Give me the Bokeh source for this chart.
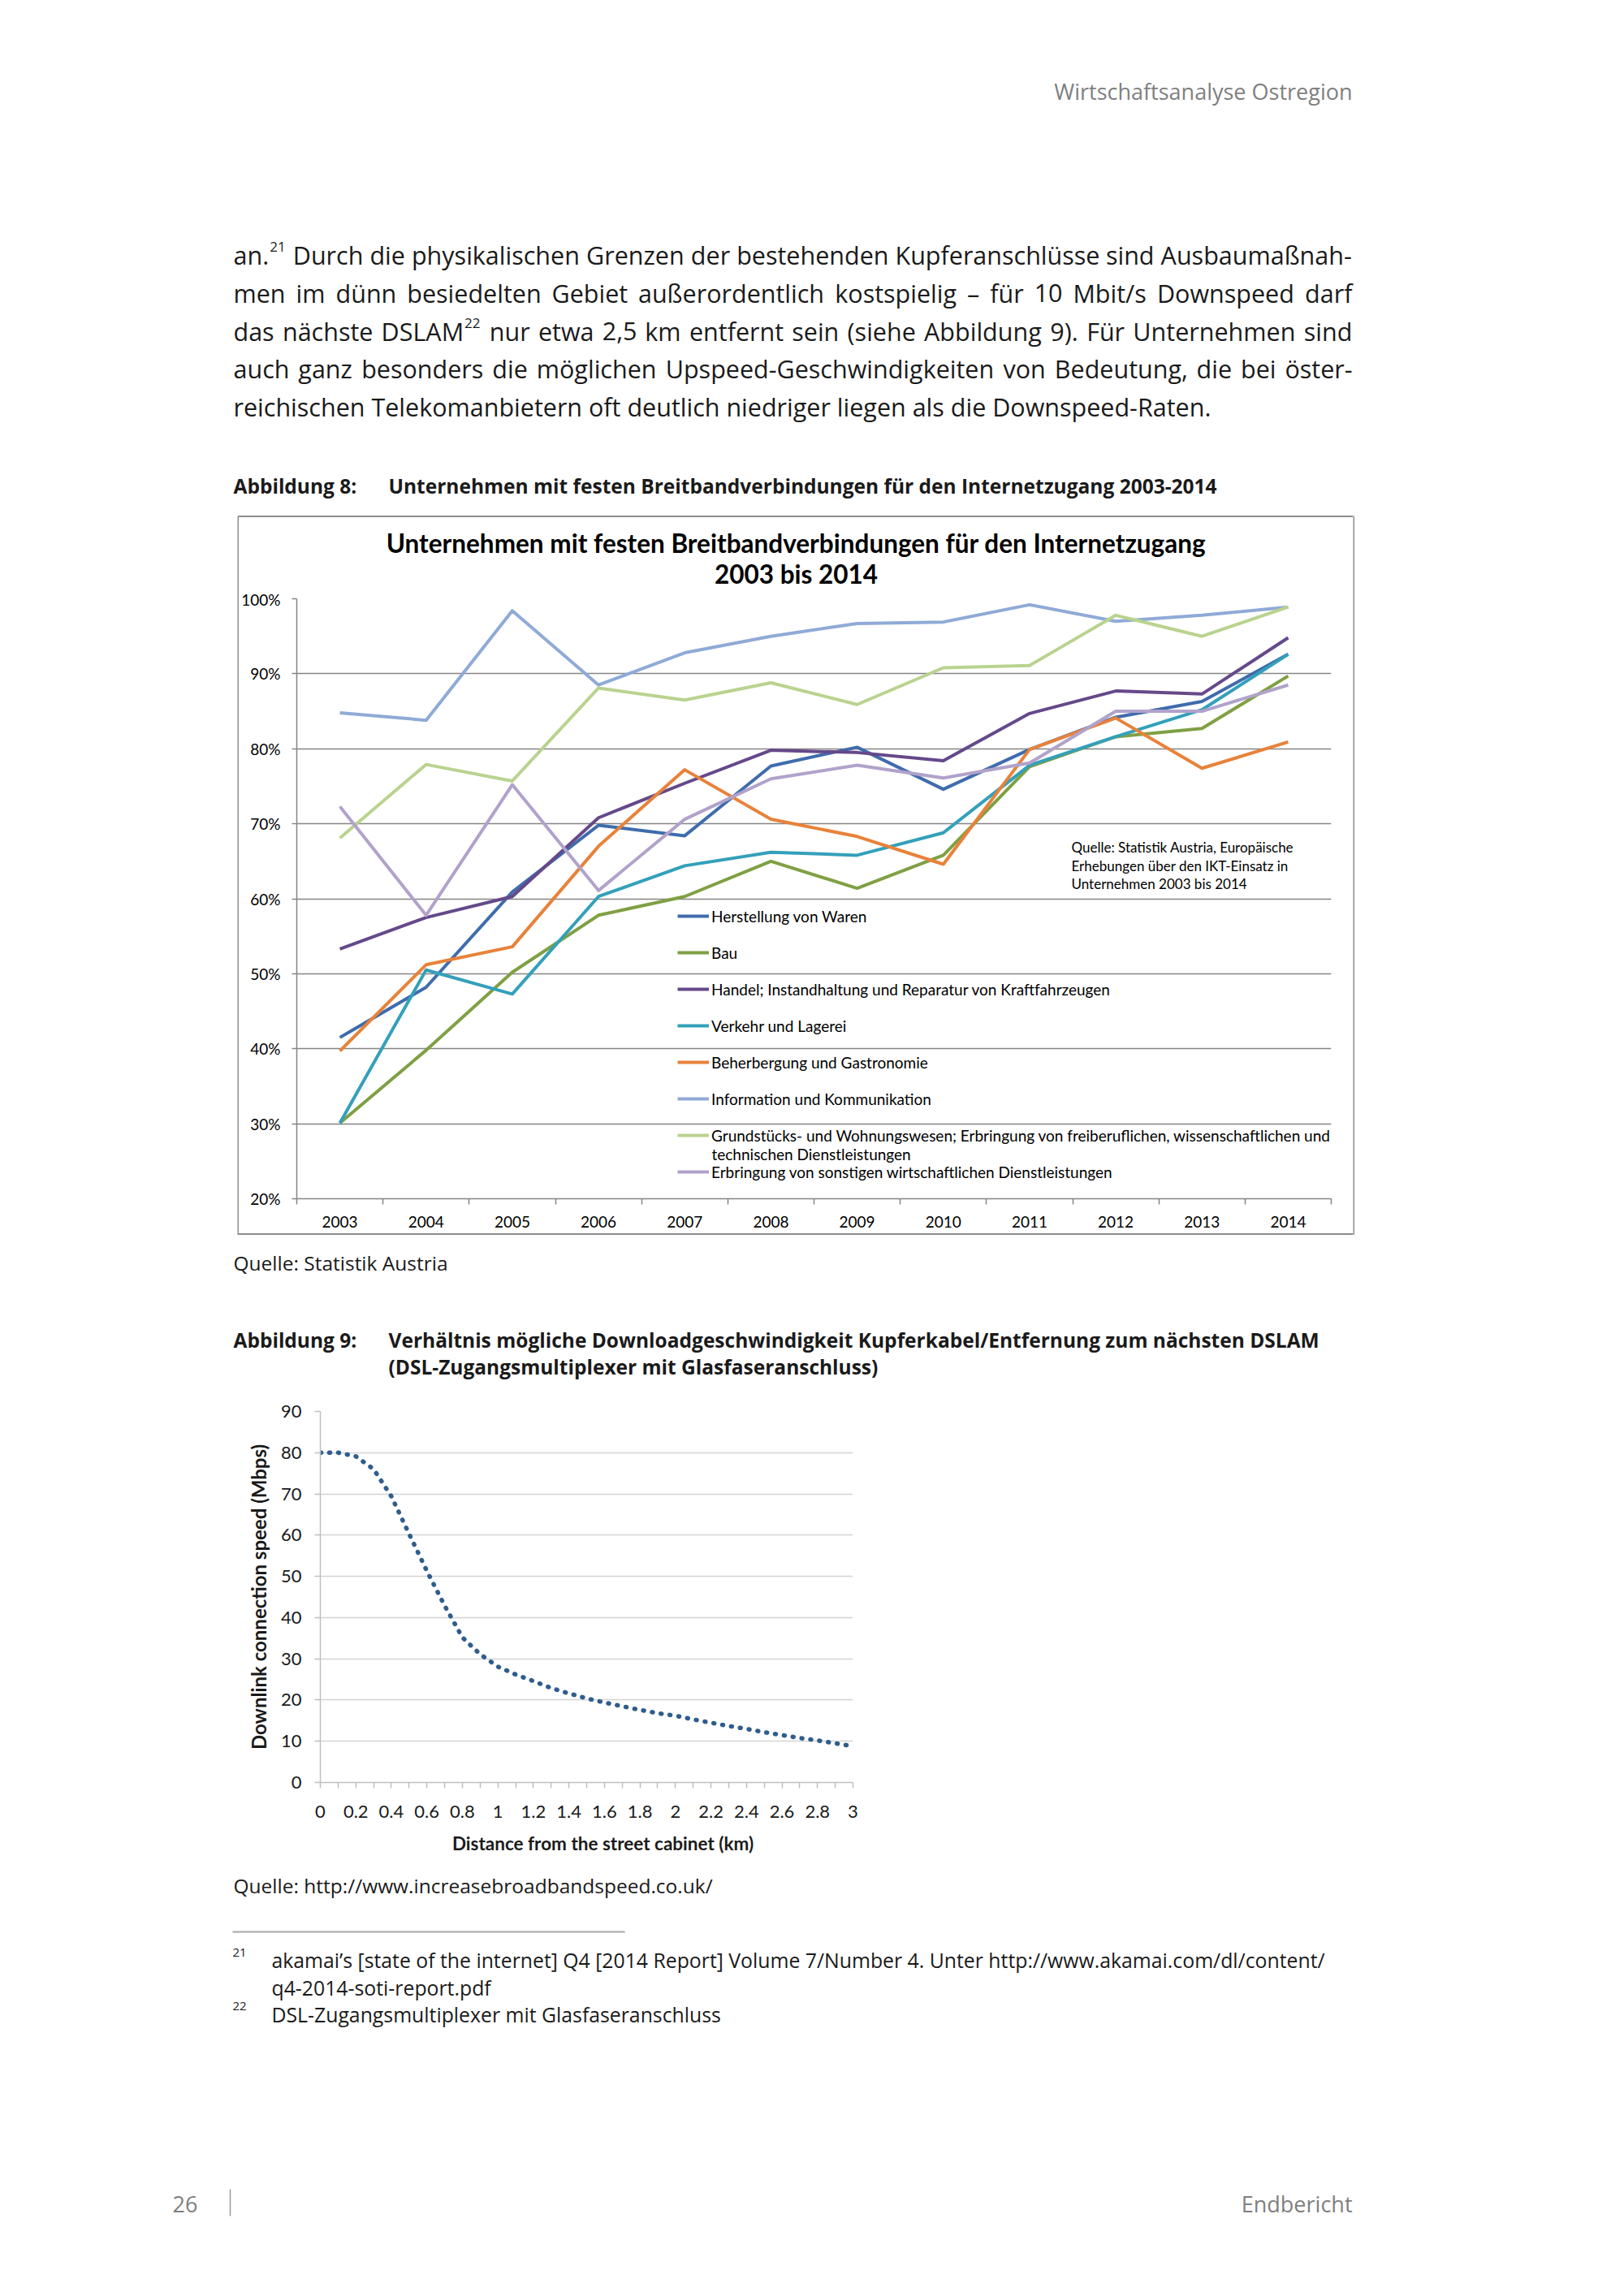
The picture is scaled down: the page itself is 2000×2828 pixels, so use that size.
from bokeh.plotting import figure
from bokeh.models import (Range1d, FixedTicker, PrintfTickFormatter, CustomJSTickFormatter,
                          Legend, LegendItem, Label, Spacer, Div)
from bokeh.layouts import column, row
from bokeh.embed import file_html
from bokeh.resources import INLINE
from bokeh.core.properties import value

# ---------------- data: chart 1 ----------------
years = [2003, 2004, 2005, 2006, 2007, 2008, 2009, 2010, 2011, 2012, 2013, 2014]
herstellung = [41.5, 48.2, 60.9, 69.8, 68.4, 77.7, 80.2, 74.6, 79.9, 84.2, 86.3, 92.6]
bau = [30.1, 39.8, 50.2, 57.8, 60.3, 65.0, 61.4, 65.8, 77.6, 81.6, 82.7, 89.7]
handel = [53.3, 57.5, 60.3, 70.8, 75.4, 79.8, 79.5, 78.4, 84.7, 87.7, 87.3, 94.8]
verkehr = [30.1, 50.5, 47.3, 60.3, 64.4, 66.2, 65.8, 68.8, 77.8, 81.6, 85.2, 92.6]
beherbergung = [39.7, 51.2, 53.6, 67.0, 77.2, 70.6, 68.3, 64.6, 79.9, 84.1, 77.4, 80.9]
information = [84.8, 83.8, 98.4, 88.5, 92.8, 95.0, 96.7, 96.9, 99.2, 97.0, 97.8, 98.9]
grundstuecke = [68.1, 77.9, 75.7, 88.1, 86.5, 88.8, 85.9, 90.8, 91.1, 97.8, 95.0, 98.9]
erbringung = [72.3, 57.8, 75.2, 61.1, 70.6, 76.0, 77.8, 76.1, 78.1, 85.0, 85.0, 88.5]

series_names = [
    "Herstellung von Waren",
    "Bau",
    "Handel; Instandhaltung und Reparatur von Kraftfahrzeugen",
    "Verkehr und Lagerei",
    "Beherbergung und Gastronomie",
    "Information und Kommunikation",
    "Grundstücks- und Wohnungswesen; Erbringung von freiberuflichen, wissenschaftlichen und",
    "Erbringung von sonstigen wirtschaftlichen Dienstleistungen",
]
series_values = [herstellung, bau, handel, verkehr, beherbergung, information, grundstuecke, erbringung]
series_colors = ["#3F6CAD", "#7FA043", "#65498A", "#34A0BA", "#E8823A", "#8FAAD6", "#B9D38F", "#B1A2CB"]
pct_ticks = [20, 30, 40, 50, 60, 70, 80, 90, 100]
year_bounds = [2002.5, 2003.5, 2004.5, 2005.5, 2006.5, 2007.5, 2008.5, 2009.5, 2010.5,
               2011.5, 2012.5, 2013.5, 2014.5]

# ---------------- data: chart 2 ----------------
dist_km = [0.0, 0.1, 0.2, 0.3, 0.4, 0.5, 0.6, 0.7, 0.8, 0.9, 1.0, 1.1, 1.2, 1.3, 1.4, 1.5,
           1.6, 1.7, 1.8, 1.9, 2.0, 2.1, 2.2, 2.3, 2.4, 2.5, 2.6, 2.7, 2.8, 2.9, 2.97]
speed_mbps = [80.0, 80.0, 79.1, 76.0, 69.4, 60.3, 51.3, 42.9, 35.2, 31.1, 28.1, 26.2, 24.6,
              22.9, 21.6, 20.4, 19.4, 18.5, 17.6, 16.8, 16.2, 15.3, 14.5, 13.7, 13.0, 12.2,
              11.5, 10.8, 10.2, 9.5, 9.0]
speed_ticks = [0, 10, 20, 30, 40, 50, 60, 70, 80, 90]
dist_ticks = [0, 0.2, 0.4, 0.6, 0.8, 1, 1.2, 1.4, 1.6, 1.8, 2, 2.2, 2.4, 2.6, 2.8, 3]
dist_minor = [0.1, 0.3, 0.5, 0.7, 0.9, 1.1, 1.3, 1.5, 1.7, 1.9, 2.1, 2.3, 2.5, 2.7, 2.9]

# ---------------- page text ----------------
PAGE_FONT = "Open Sans"
GRAY = "#7f7f7f"
INK = "#1a1a1a"
BODY = 30.5
SUP = 17
TEXT_L, TEXT_R = 287, 1665

body_lines = [
    "an.^21 Durch die physikalischen Grenzen der bestehenden Kupferanschlüsse sind Ausbaumaßnah-",
    "men im dünn besiedelten Gebiet außerordentlich kostspielig – für 10 Mbit/s Downspeed darf",
    "das nächste DSLAM^22 nur etwa 2,5 km entfernt sein (siehe Abbildung 9). Für Unternehmen sind",
    "auch ganz besonders die möglichen Upspeed-Geschwindigkeiten von Bedeutung, die bei öster-",
    "reichischen Telekomanbietern oft deutlich niedriger liegen als die Downspeed-Raten.",
]
body_y = [313, 360, 407, 453, 500]

# approximate Open Sans advance widths (em) used to justify the lines
ADV = {" ": .260, "a": .556, "b": .613, "c": .476, "d": .613, "e": .561, "f": .339, "g": .548,
       "h": .614, "i": .253, "j": .253, "k": .525, "l": .253, "m": .930, "n": .614, "o": .604,
       "p": .613, "q": .613, "r": .408, "s": .477, "t": .353, "u": .614, "v": .501, "w": .778,
       "x": .524, "y": .502, "z": .477, "ä": .556, "ö": .604, "ü": .614, "ß": .635,
       "A": .633, "B": .648, "D": .729, "F": .516, "G": .728, "K": .590, "L": .519, "M": .903,
       "R": .625, "S": .541, "T": .560, "U": .734, ".": .266, ",": .245, "-": .322, "–": .500,
       "(": .295, ")": .295, "/": .373, ":": .266}


def adv(s, size):
    return sum(ADV.get(ch, .572 if ch.isdigit() else .56) for ch in s) * size


PAGE_W = 1984
EDGE_COLOR = "#8c8c8c"


def page_fig(x0, y0, w, h, bl=0, br=0):
    p = figure(width=w, height=h, x_range=Range1d(x0 + bl, x0 + w - br), y_range=Range1d(y0 + h, y0),
               x_axis_type=None, y_axis_type=None, output_backend="svg",
               toolbar_location=None, min_border=0)
    p.min_border_left = bl
    p.min_border_right = br
    p.outline_line_color = None
    p.background_fill_color = "white"
    p.border_fill_color = "white"
    return p


def bar_fig(w, h, color=EDGE_COLOR):
    p = figure(width=w, height=h, x_axis_type=None, y_axis_type=None, output_backend="svg",
               toolbar_location=None, min_border=0)
    p.outline_line_color = None
    p.background_fill_color = color
    p.border_fill_color = color
    return p


def bar_div(w, h, color=EDGE_COLOR):
    return Div(text="", width=w, height=h, margin=0,
               styles={"background-color": color, "overflow": "hidden"})


def txt(p, x, y, s, size, color=INK, align="left", bold=False, font=PAGE_FONT):
    p.text(x=[x], y=[y], text=[s], text_font=value(font), text_font_size=value(f"{size}px"),
           text_color=color, text_align=align, text_baseline="middle",
           text_font_style="bold" if bold else "normal")


def body_line(p, line, y, justify=True):
    words = line.split(" ")
    parts = []
    widths = []
    for w in words:
        if "^" in w:
            main, sup = w.split("^")
            parts.append((main, sup))
            widths.append(adv(main, BODY) + adv(sup, SUP) + 2)
        else:
            parts.append((w, None))
            widths.append(adv(w, BODY))
    gap = (TEXT_R - TEXT_L - sum(widths)) / (len(words) - 1) if justify else adv(" ", BODY)
    xs, ts, sx, st = [], [], [], []
    x = TEXT_L
    for (main, sup), wd in zip(parts, widths):
        xs.append(x)
        ts.append(main)
        if sup:
            sx.append(x + adv(main, BODY) + 1)
            st.append(sup)
        x += wd + gap
    if not justify:
        xs, ts = [TEXT_L], [line]
    p.text(x=xs, y=[y] * len(xs), text=ts, text_font=value(PAGE_FONT),
           text_font_size=value(f"{BODY}px"), text_color=INK, text_align="left",
           text_baseline="middle")
    if st:
        p.text(x=sx, y=[y - 10] * len(sx), text=st, text_font=value(PAGE_FONT),
               text_font_size=value(f"{SUP}px"), text_color=INK, text_align="left",
               text_baseline="middle")


# Section A (page y 0..635)
pa = page_fig(0, 0, PAGE_W, 635)
txt(pa, 1665, 112, "Wirtschaftsanalyse Ostregion", 27, GRAY, "right")
for i, (ln, yy) in enumerate(zip(body_lines, body_y)):
    body_line(pa, ln, yy, justify=(i < len(body_lines) - 1))
txt(pa, 287, 598, "Abbildung 8:", 24.5, bold=True)
txt(pa, 478, 598, "Unternehmen mit festen Breitbandverbindungen für den Internetzugang 2003-2014", 24.5, bold=True)

# ---------------- chart 1 (box 292..1668 x 635..1521) ----------------
BOX_L, BOX_T, BOX_W, BOX_H, EDGE = 292, 635, 1376, 886, 2
IN_L, IN_W = BOX_L + EDGE, BOX_W - 2 * EDGE
T1_H = 89
C1_H = BOX_H - 2 * EDGE - T1_H
FRAME_L, FRAME_R = 365, 1639
C1_BL, C1_BR, C1_BT, C1_BB = FRAME_L - IN_L, IN_L + IN_W - FRAME_R, 11, 43
C1_FW = FRAME_R - FRAME_L
C1_FH = C1_H - C1_BT - C1_BB
C1_TOP_PAGE = BOX_T + EDGE + T1_H + C1_BT


def c1x(px):
    return year_bounds[0] + (px - FRAME_L) * (year_bounds[-1] - year_bounds[0]) / C1_FW


def c1y(py):
    return pct_ticks[-1] - (py - C1_TOP_PAGE) * (pct_ticks[-1] - pct_ticks[0]) / C1_FH


t1 = page_fig(IN_L, BOX_T + EDGE, IN_W, T1_H, bl=C1_BL, br=C1_BR)
txt(t1, 980, 668, "Unternehmen mit festen Breitbandverbindungen für den Internetzugang", 31.5,
    "#000000", "center", bold=True, font="Lato")
txt(t1, 980, 706, "2003 bis 2014", 31.5, "#000000", "center", bold=True, font="Lato")

p1 = figure(width=IN_W, height=C1_H, x_range=Range1d(year_bounds[0], year_bounds[-1]),
            y_range=Range1d(pct_ticks[0], pct_ticks[-1]), output_backend="svg",
            toolbar_location=None, min_border_left=C1_BL, min_border_right=C1_BR,
            min_border_top=C1_BT, min_border_bottom=C1_BB)
p1.outline_line_color = None
p1.background_fill_color = "white"
p1.border_fill_color = "white"
p1.xgrid.visible = False
p1.ygrid.ticker = FixedTicker(ticks=pct_ticks)
p1.ygrid.grid_line_color = "#858585"
p1.ygrid.grid_line_width = 1.6

p1.xaxis.ticker = FixedTicker(ticks=years, minor_ticks=year_bounds)
p1.xaxis.major_tick_out = 0
p1.xaxis.major_tick_in = 0
p1.xaxis.minor_tick_out = 7
p1.xaxis.minor_tick_in = 0
p1.xaxis.minor_tick_line_color = "#858585"
p1.xaxis.minor_tick_line_width = 1.5
p1.xaxis.major_label_standoff = 14
p1.yaxis.ticker = FixedTicker(ticks=pct_ticks)
p1.yaxis.formatter = PrintfTickFormatter(format="%d%%")
p1.yaxis.major_tick_out = 6
p1.yaxis.major_tick_in = 0
p1.yaxis.minor_tick_out = 0
p1.yaxis.minor_tick_in = 0
p1.yaxis.major_label_standoff = 14
for ax in (p1.xaxis, p1.yaxis):
    ax.axis_line_color = "#858585"
    ax.axis_line_width = 1.5
    ax.major_tick_line_color = "#858585"
    ax.major_tick_line_width = 1.5
    ax.major_label_text_font = "Lato"
    ax.major_label_text_font_size = "19px"
    ax.major_label_text_color = "#000000"

renderers = []
for name, vals, col in zip(series_names, series_values, series_colors):
    r = p1.line(years, vals, line_color=col, line_width=4, line_join="round")
    renderers.append(r)

legend = Legend(items=[LegendItem(label=value(n), renderers=[r]) for n, r in zip(series_names, renderers)],
                location=(834 - FRAME_L, (C1_TOP_PAGE + C1_FH) - 1455))
legend.glyph_width = 39
legend.glyph_height = 24
legend.label_height = 24
legend.label_standoff = 3
legend.spacing = 21
legend.padding = 0
legend.margin = 0
legend.border_line_color = None
legend.background_fill_alpha = 0
legend.label_text_font = "Lato"
legend.label_text_font_size = "19px"
legend.label_text_color = "#000000"
p1.add_layout(legend)

p1.add_layout(Label(x=c1x(876), y=c1y(1421), text="technischen Dienstleistungen", text_font="Lato",
                    text_font_size="19px", text_baseline="middle", text_color="#000000"))
for yy, s in [(1043, "Quelle: Statistik  Austria, Europäische"),
              (1066, "Erhebungen über den IKT-Einsatz  in"),
              (1088, "Unternehmen 2003 bis  2014")]:
    p1.add_layout(Label(x=c1x(1319), y=c1y(yy), text=s, text_font="Lato", text_font_size="17px",
                        text_baseline="middle", text_color="#000000"))

box1 = row(
    bar_fig(EDGE, BOX_H),
    column(bar_div(IN_W, EDGE), t1, p1, bar_div(IN_W, EDGE), spacing=0),
    bar_fig(EDGE, BOX_H),
    spacing=0,
)

# Section C (page y 1521..1700)
pc = page_fig(0, 1521, PAGE_W, 179)
txt(pc, 287, 1555, "Quelle: Statistik Austria", 24.5)
txt(pc, 287, 1650, "Abbildung 9:", 24.5, bold=True)
txt(pc, 478, 1650, "Verhältnis mögliche Downloadgeschwindigkeit Kupferkabel/Entfernung zum nächsten DSLAM", 24.5, bold=True)
txt(pc, 478, 1683, "(DSL-Zugangsmultiplexer mit Glasfaseranschluss)", 24.5, bold=True)

# ---------------- chart 2 ----------------
C2_L, C2_T = 288, 1700
C2_W, C2_H = 802, 550
C2_BL, C2_BR, C2_BT, C2_BB = 106, 40, 38, 55

p2 = figure(width=C2_W, height=C2_H, x_range=Range1d(dist_ticks[0], dist_ticks[-1]),
            y_range=Range1d(speed_ticks[0], speed_ticks[-1]), output_backend="svg",
            toolbar_location=None, min_border_left=C2_BL, min_border_right=C2_BR,
            min_border_top=C2_BT, min_border_bottom=C2_BB)
p2.outline_line_color = None
p2.background_fill_color = "white"
p2.border_fill_color = "white"
p2.xgrid.visible = False
p2.ygrid.ticker = FixedTicker(ticks=speed_ticks)
p2.ygrid.grid_line_color = "#d4d4d4"
p2.ygrid.grid_line_width = 1.5
p2.line(dist_km, speed_mbps, line_color="#2F5D8C", line_width=5.5, line_dash="1 10", line_cap="round")

p2.xaxis.ticker = FixedTicker(ticks=dist_ticks, minor_ticks=dist_minor)
p2.xaxis.formatter = CustomJSTickFormatter(code="return tick.toString()")
p2.xaxis.major_tick_out = 7
p2.xaxis.major_tick_in = 0
p2.xaxis.minor_tick_out = 7
p2.xaxis.minor_tick_in = 0
p2.xaxis.minor_tick_line_color = "#bfbfbf"
p2.xaxis.minor_tick_line_width = 1.5
p2.xaxis.major_label_standoff = 21
p2.yaxis.ticker = FixedTicker(ticks=speed_ticks)
p2.yaxis.major_tick_out = 7
p2.yaxis.major_tick_in = 0
p2.yaxis.minor_tick_out = 0
p2.yaxis.minor_tick_in = 0
p2.yaxis.major_label_standoff = 16
p2.yaxis.axis_label = "Downlink connection speed (Mbps)"
p2.yaxis.axis_label_text_font = "Lato"
p2.yaxis.axis_label_text_font_size = "24px"
p2.yaxis.axis_label_text_font_style = "bold"
p2.yaxis.axis_label_text_color = INK
p2.yaxis.axis_label_standoff = 10
for ax in (p2.xaxis, p2.yaxis):
    ax.axis_line_color = "#bfbfbf"
    ax.axis_line_width = 1.5
    ax.major_tick_line_color = "#bfbfbf"
    ax.major_tick_line_width = 1.5
    ax.major_label_text_font = "Lato"
    ax.major_label_text_font_size = "22px"
    ax.major_label_text_color = INK

# Section E (page y 2250..2800)
pe = page_fig(0, 2250, PAGE_W, 550)
txt(pe, 742, 2270, "Distance from the street cabinet (km)", 22.5, INK, "center", bold=True, font="Lato")
txt(pe, 287, 2322, "Quelle: http://www.increasebroadbandspeed.co.uk/", 24.5)
pe.segment(x0=[286], y0=[2379], x1=[769], y1=[2379], line_color="#a6a6a6", line_width=2)
txt(pe, 286, 2404, "21", 15)
txt(pe, 334, 2413, "akamai’s [state of the internet] Q4 [2014 Report] Volume 7/Number 4. Unter http://www.akamai.com/dl/content/", 24.8)
txt(pe, 334, 2447, "q4-2014-soti-report.pdf", 24.8)
txt(pe, 286, 2470, "22", 15)
txt(pe, 334, 2480, "DSL-Zugangsmultiplexer mit Glasfaseranschluss", 24.8)
txt(pe, 243, 2714, "26", 27, GRAY, "right")
pe.segment(x0=[283], y0=[2696], x1=[283], y1=[2729], line_color="#9a9a9a", line_width=1.5)
txt(pe, 1665, 2714, "Endbericht", 27, GRAY, "right")

layout = column(
    pa,
    row(Spacer(width=BOX_L, height=BOX_H), box1, spacing=0),
    pc,
    row(Spacer(width=C2_L, height=C2_H), p2, spacing=0),
    pe,
    spacing=0,
)

open("out.html", "w").write(file_html(layout, INLINE))
